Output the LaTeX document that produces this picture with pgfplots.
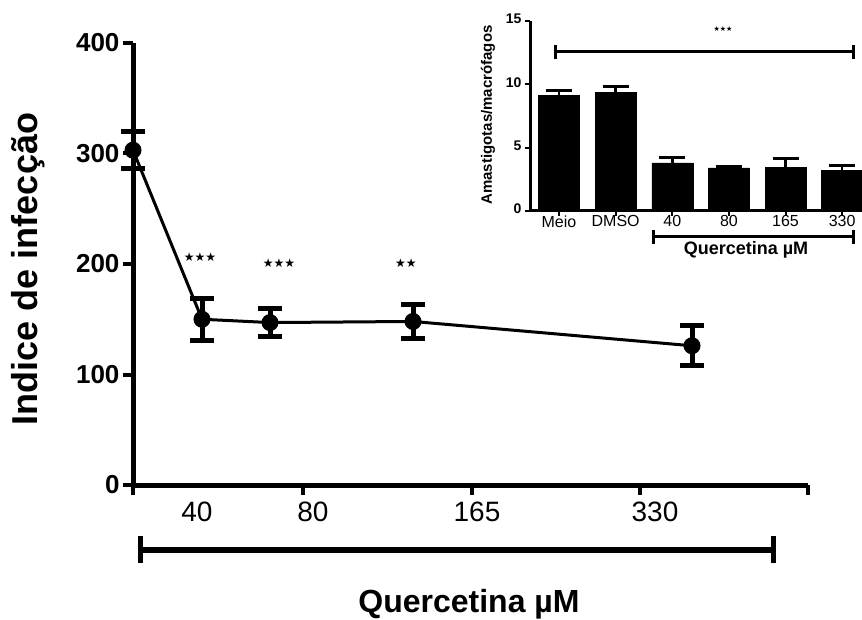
\documentclass[border=0pt]{standalone}
\usepackage{fontspec}
\setmainfont{Liberation Sans}
\newfontfamily\symf{DejaVu Sans}
\usepackage{pgfplots}
\pgfplotsset{compat=1.18}
\begin{document}
\begin{tikzpicture}
\path[use as bounding box, fill=white] (0,0) rectangle (862pt,619pt);
% ---------------- main plot ----------------
\begin{axis}[
  at={(133pt,134pt)}, anchor=south west,
  scale only axis, width=675pt, height=442pt,
  xmin=0, xmax=675, ymin=0, ymax=400,
  axis x line*=bottom, axis y line*=left,
  axis line style={line width=5pt},
  xtick={0,170,339,507,675}, xticklabels={},
  ytick={0,100,200,300,400},
  tick align=outside, major tick length=10pt,
  tick style={line width=4pt, black},
  /pgf/number format/assume math mode=true,
  yticklabel style={font=\bfseries\fontsize{26}{26}\selectfont},
  extra x ticks={64,180,344,522},
  extra x tick labels={40,80,165,330},
  extra x tick style={major tick length=0pt, tick style={draw=none},
     xticklabel style={font=\fontsize{28}{28}\selectfont, yshift=-13pt}},
  clip=false,
]
\addplot[black, line width=3pt, mark=*, mark size=8pt,
  mark options={fill=black, line width=1pt},
  error bars/.cd, y dir=both, y explicit,
  error bar style={line width=5pt},
  error mark options={rotate=90, mark size=12pt, line width=5pt}]
  coordinates {
  (0,303)   +- (0,17)
  (69,150)  +- (0,19)
  (137,147) +- (0,13)
  (280,148) +- (0,15)
  (559,126) +- (0,18)
  };
\end{axis}
% ---------------- inset ----------------
\begin{axis}[
  at={(530pt,408pt)}, anchor=south west,
  scale only axis, width=332pt, height=190pt,
  xmin=-0.512, xmax=5.35, ymin=0, ymax=15,
  axis x line*=bottom, axis y line*=left,
  axis line style={line width=3pt},
  ytick={0,5,10,15},
  xtick={0,1,2,3,4,5},
  xticklabels={Meio,DMSO,40,80,165,330},
  tick align=outside, major tick length=5pt,
  tick style={line width=2pt, black},
  /pgf/number format/assume math mode=true,
  typeset ticklabels with strut,
  yticklabel style={font=\bfseries\fontsize{14}{14}\selectfont},
  xticklabel style={font=\fontsize{16}{16}\selectfont, yshift=4pt},
  ybar, bar width=41pt,
  clip=false,
]
\addplot[fill=black, draw=black,
  error bars/.cd, y dir=plus, y explicit,
  error bar style={line width=2.5pt},
  error mark options={rotate=90, mark size=13pt, line width=3pt}]
  coordinates {
  (0,9.15) +- (0,0.40)
  (1,9.35) +- (0,0.47)
  (2,3.80) +- (0,0.40)
  (3,3.40) +- (0,0.15)
  (4,3.45) +- (0,0.70)
  (5,3.20) +- (0,0.40)
  };
\end{axis}
% ---------------- annotations ----------------
% main y label
\node[rotate=90, font=\bfseries\fontsize{36}{36}\selectfont] at (28pt,350pt) {Indice de infecção};
% main bracket and label
\draw[line width=6pt] (140pt,69pt) -- (773pt,69pt);
\draw[line width=5pt] (140pt,83pt) -- (140pt,56pt);
\draw[line width=5pt] (773pt,83pt) -- (773pt,56pt);
\node[anchor=base, font=\bfseries\fontsize{32}{32}\selectfont, inner sep=0pt] at (469pt,7pt) {Quercetina µM};
% stars
\node[font=\symf\fontsize{12}{12}\selectfont, inner sep=0pt] at (200pt,362pt) {★★★};
\node[font=\symf\fontsize{12}{12}\selectfont, inner sep=0pt] at (279pt,356pt) {★★★};
\node[font=\symf\fontsize{12}{12}\selectfont, inner sep=0pt] at (406pt,356pt) {★★};
% inset annotations
\node[rotate=90, font=\bfseries\fontsize{15}{15}\selectfont] at (488pt,504pt) {Amastigotas/macrófagos};
\node[font=\symf\fontsize{7}{7}\selectfont, inner sep=0pt] at (723pt,590pt) {★★★};
\draw[line width=3pt] (555pt,567pt) -- (853pt,567pt);
\draw[line width=3pt] (555pt,574pt) -- (555pt,560pt);
\draw[line width=3pt] (853pt,574pt) -- (853pt,560pt);
\draw[line width=3pt] (653pt,382pt) -- (853pt,382pt);
\draw[line width=3pt] (653pt,389pt) -- (653pt,375pt);
\draw[line width=3pt] (853pt,389pt) -- (853pt,375pt);
\node[font=\bfseries\fontsize{18}{18}\selectfont, inner sep=0pt] at (746pt,369pt) {Quercetina µM};
\end{tikzpicture}
\end{document}
